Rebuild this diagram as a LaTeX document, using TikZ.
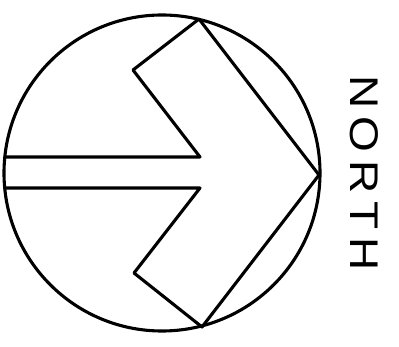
\documentclass[tikz,border=0pt]{standalone}
\usepackage{fontspec}
\setmainfont{Liberation Sans}
\begin{document}
\begin{tikzpicture}[x=1pt,y=-1pt,
  ln/.style={line width=3.1pt,line join=round,line cap=round},
  lbl/.style={inner sep=0pt,font=\fontsize{40}{40}\selectfont}]
\useasboundingbox (0,0) rectangle (399,347);
\coordinate (c) at (162,173);
\draw[ln] (c) circle[radius=158];
\coordinate (l1) at (5,157);
\coordinate (i1) at (200,157);
\coordinate (n1) at (133,70);
\coordinate (t1) at (199,19);
\coordinate (tip) at (319,175);
\coordinate (t2) at (202,327);
\coordinate (n2) at (134,273);
\coordinate (i2) at (200,188);
\coordinate (l2) at (5,188);
\draw[ln] (l1) -- (i1) -- (n1) -- (t1) -- (tip) -- (t2) -- (n2) -- (i2) -- (l2);
\node[lbl,rotate=-90,anchor=base] (north) at (350,173) {\scalebox{1.15}[1]{N\kern7pt O\kern7pt R\kern7pt T\kern7pt H}};
\end{tikzpicture}
\end{document}
